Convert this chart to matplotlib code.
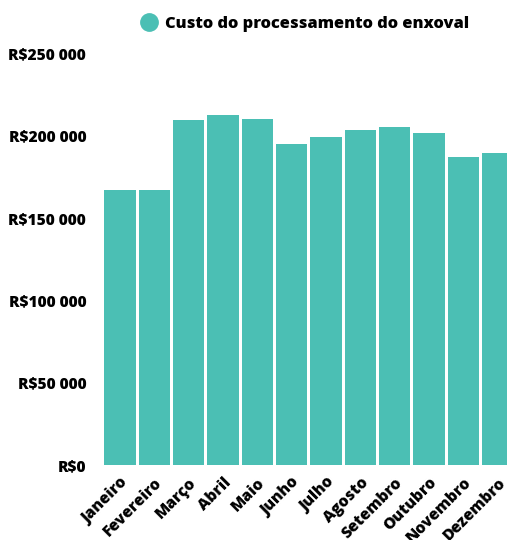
import matplotlib
matplotlib.use("Agg")
import matplotlib.pyplot as plt
from matplotlib.lines import Line2D
from matplotlib.ticker import FuncFormatter

months = ["Janeiro", "Fevereiro", "Março", "Abril", "Maio", "Junho", "Julho",
          "Agosto", "Setembro", "Outubro", "Novembro", "Dezembro"]
values = [167000, 167000, 209500, 212500, 210000, 195000, 199000,
          203500, 205500, 201500, 187000, 189500]
yticks = [0, 50000, 100000, 150000, 200000, 250000]
series_name = "Custo do processamento do enxoval"

color = "#4BBFB4"
plt.rcParams['font.family'] = ['Open Sans', 'DejaVu Sans']
W = 800

fig = plt.figure(figsize=(5.07, 5.40), dpi=100)
ax = fig.add_axes([102.8 / 507, 75 / 540, 412 / 507, 411.6 / 540])

x = list(range(len(months)))
ax.bar(x, values, width=0.92, color=color, edgecolor=color, linewidth=0)
ax.set_xlim(-0.5, len(months) - 0.5)
ax.set_ylim(0, 250000)
ax.set_yticks(yticks)

def fmt(v, pos):
    v = int(round(v))
    if v == 0:
        return "R$0"
    s = f"{v:,}".replace(",", " ")
    return "R$" + s

ax.yaxis.set_major_formatter(FuncFormatter(fmt))
ax.set_xticks(x)
ax.set_xticklabels(months, rotation=45, ha='right', rotation_mode='anchor',
                   fontsize=11.3, fontweight=W)
for lab in ax.get_yticklabels():
    lab.set_fontweight(W)
    lab.set_fontsize(11.2)
ax.tick_params(axis='y', length=0, pad=12)
ax.tick_params(axis='x', length=0, pad=7)
for s in ax.spines.values():
    s.set_visible(False)

handle = Line2D([], [], marker='o', ls='', color=color, markersize=12.5)
fig.legend(handles=[handle], labels=[series_name], loc='center',
           bbox_to_anchor=(0.6016, 0.9556), frameon=False, handletextpad=0.5,
           handlelength=1.0, prop={'weight': W, 'size': 11.8})

fig.savefig("out.png", dpi=100)
